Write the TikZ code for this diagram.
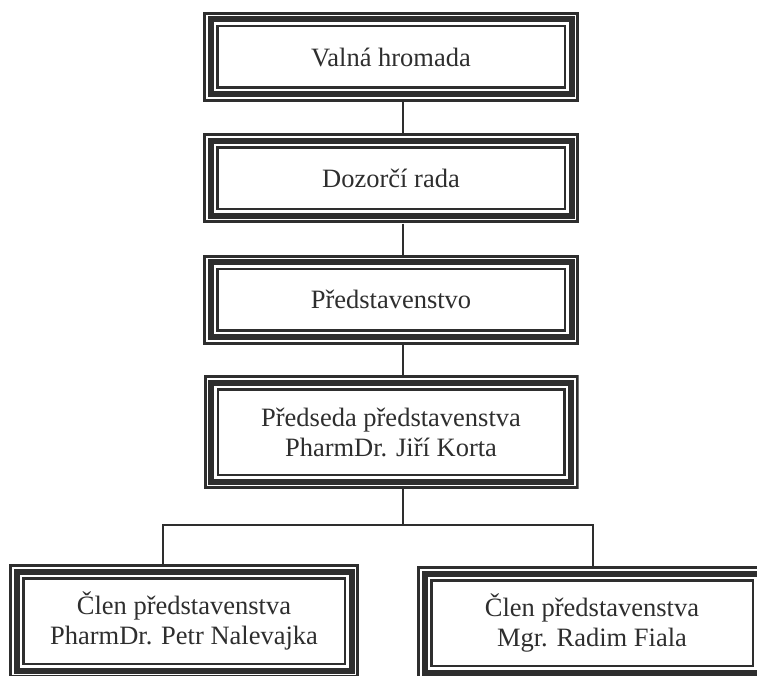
\documentclass[tikz,border=0pt]{standalone}
\usepackage{fontspec}
\setmainfont{Liberation Serif}
\usetikzlibrary{positioning}
\definecolor{ink}{HTML}{2E2E2E}
\tikzset{
  orgbox/.style={ % box with a triple frame
    rectangle, fill=white, text=ink, align=center,
    minimum width=376pt, minimum height=90pt, inner sep=0pt,
    font=\fontsize{26.5}{30}\selectfont,
    path picture={
      \draw[ink, line width=3pt]
      ([shift={(1.5pt,-1.5pt)}]path picture bounding box.north west) rectangle
      ([shift={(-1.5pt,1.5pt)}]path picture bounding box.south east);
      \draw[ink, line width=6pt]
      ([shift={(7.5pt,-7.5pt)}]path picture bounding box.north west) rectangle
      ([shift={(-7.5pt,7.5pt)}]path picture bounding box.south east);
      \draw[ink, line width=2.5pt]
      ([shift={(14.25pt,-14.25pt)}]path picture bounding box.north west) rectangle
      ([shift={(-14.25pt,14.25pt)}]path picture bounding box.south east);
    }
  },
  tallbox/.style={orgbox, minimum height=114pt},
  memberbox/.style={tallbox, minimum width=350pt},
  link/.style={ink, line width=2pt}
}
\begin{document}
\begin{tikzpicture}[x=1pt, y=-1pt]
  \useasboundingbox (0,0) rectangle (757,676);
  \clip (0,0) rectangle (757,676);
  \fill[white] (0,0) rectangle (757,676);

  \node[orgbox] (valna) at (391,57) {Valná hromada};
  \node[orgbox, below=31pt of valna] (dozor) {Dozorčí rada};
  \node[orgbox, below=31pt of dozor] (pred) {Představenstvo};
  \node[tallbox, minimum width=375pt, below=30pt of pred] (chair)
    {Předseda představenstva\\PharmDr. Jiří Korta};
  \node[memberbox] (clen_a) at (184,621)
    {Člen představenstva\\PharmDr. Petr Nalevajka};
  \node[memberbox] (clen_b) at (592,623)
    {Člen představenstva\\Mgr. Radim Fiala};

  \coordinate (spine) at (403,0);
  \coordinate (fork) at (403,525);
  \coordinate (lfoot) at (163,525);
  \coordinate (rfoot) at (593,525);

  \draw[link] (valna.south -| spine) -- (dozor.north -| spine);
  \draw[link] (dozor.south -| spine) -- (pred.north -| spine);
  \draw[link] (pred.south -| spine) -- (chair.north -| spine);
  \draw[link] (chair.south -| spine) -- (fork);
  \draw[link] (clen_a.north -| lfoot) -- (lfoot) -- (rfoot) -- (clen_b.north -| rfoot);
\end{tikzpicture}
\end{document}
